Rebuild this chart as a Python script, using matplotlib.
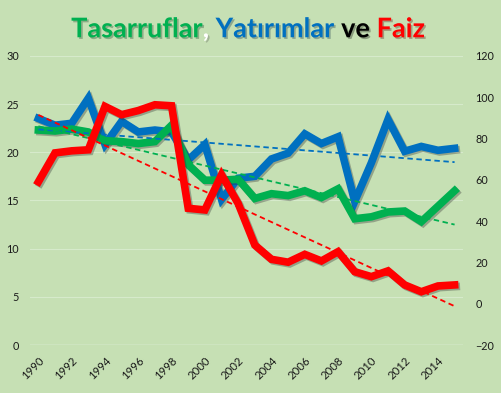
import matplotlib
matplotlib.use("Agg")
import matplotlib.pyplot as plt
import matplotlib.patheffects as pe
import numpy as np

years = list(range(1990, 2016))
tasarruf = [22.3, 22.2, 22.4, 22.1, 21.2, 21.1, 20.9, 21.1, 22.8, 18.7, 17.1, 17.1, 17.2,
            15.2, 15.7, 15.5, 16.0, 15.3, 16.2, 13.1, 13.3, 13.8, 13.9, 12.8, 14.4, 16.0]
yatirim = [23.5, 22.8, 23.0, 25.6, 20.8, 23.2, 22.1, 22.3, 22.1, 19.2, 20.8, 15.1, 17.3,
           17.5, 19.3, 19.9, 21.9, 20.9, 21.6, 14.9, 18.9, 23.4, 20.1, 20.6, 20.2, 20.4]
faiz = [59.0, 73.0, 74.0, 74.5, 95.5, 91.5, 93.5, 96.3, 95.8, 46.2, 45.4, 62.4, 48.5,
        28.4, 21.5, 20.1, 23.9, 20.7, 25.2, 15.5, 13.1, 15.9, 9.1, 5.8, 8.6, 9.1]
xlabels = [str(y) if y % 2 == 0 else "" for y in years]

bg = "#C6E0B4"
green = "#00B050"
blue = "#0070C0"
red = "#FF0000"

plt.rcParams['font.family'] = ['Lato', 'DejaVu Sans']

fig = plt.figure(figsize=(5.01, 3.93), dpi=100, facecolor=bg)
ax = fig.add_axes([0.06, 0.122, 0.864, 0.736], facecolor=bg)
ax2 = ax.twinx()

x = np.arange(len(years))
shadow = [pe.SimpleLineShadow(offset=(1.2, -1.2), shadow_color="#333333", alpha=0.35), pe.Normal()]

ax.plot(x, yatirim, color=blue, lw=5.5, solid_joinstyle="miter", path_effects=shadow, zorder=3)
ax.plot(x, tasarruf, color=green, lw=5.5, solid_joinstyle="miter", path_effects=shadow, zorder=3)
ax2.plot(x, faiz, color=red, lw=5.5, solid_joinstyle="miter", path_effects=shadow, zorder=3)

# linear trendlines
for a, vals, c in [(ax, yatirim, blue), (ax, tasarruf, green), (ax2, faiz, red)]:
    k, b = np.polyfit(x, vals, 1)
    a.plot(x, k * x + b, color=c, lw=1.3, ls=(0, (3, 2)), zorder=4)

ax.set_xlim(-0.5, len(years) - 0.5)
ax.set_ylim(0, 30)
ax2.set_ylim(-20, 120)
ax.set_yticks(range(0, 31, 5))
ax2.set_yticks(range(-20, 121, 20))
ax.set_xticks(x)
ax.set_xticklabels(xlabels, rotation=45, ha="right", rotation_mode="anchor")

for a in (ax, ax2):
    for s in a.spines.values():
        s.set_visible(False)
    a.tick_params(length=0, labelsize=7.8, colors="#1a1a1a")
ax.tick_params(axis="y", pad=8)
ax2.tick_params(axis="y", pad=9)
ax.tick_params(axis="x", pad=7, labelsize=8.2)

ax.grid(axis="y", color="#D6EACB", lw=0.8)
ax.axhline(0, color="#EEF6EA", lw=1.0)
ax.set_axisbelow(True)

# multicolour title, each piece placed right after the previous one
parts = [("Tasarruflar", green), (",", "#FFFFFF"), (" Yatırımlar", blue), (" ve", "black"), (" Faiz", red)]
tshadow = [pe.SimplePatchShadow(offset=(1.2, -1.2), alpha=0.3), pe.Normal()]
t = fig.text(0.142, 0.895, parts[0][0], color=parts[0][1], fontsize=19.5, fontweight="bold",
             va="bottom", path_effects=tshadow)
for txt, c in parts[1:]:
    t = ax.annotate(txt, xy=(1, 0), xycoords=t, color=c, fontsize=19.5, fontweight="bold",
                    va="bottom", ha="left", path_effects=tshadow, annotation_clip=False)

fig.savefig("out.png", dpi=100, facecolor=bg)
